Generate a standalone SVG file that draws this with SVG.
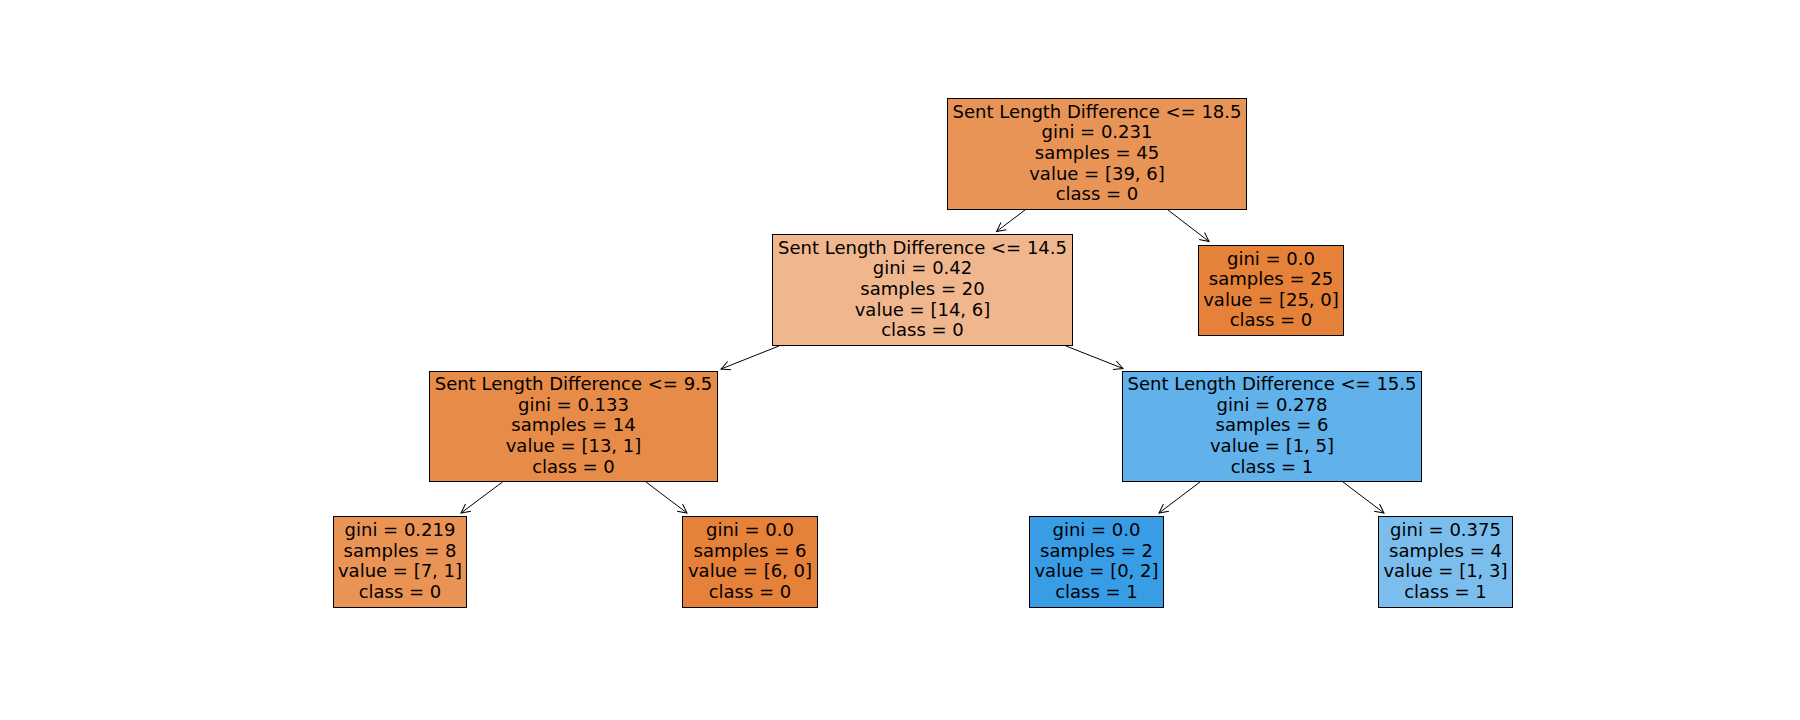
<svg xmlns="http://www.w3.org/2000/svg" width="1800" height="720" viewBox="0 0 1800 720">
<style>
.box{stroke:#000;stroke-width:1}
.t{font-family:"DejaVu Sans",sans-serif;font-size:18px;fill:#000;text-anchor:middle}
.arr{stroke:#000;stroke-width:1;fill:none;marker-end:url(#ah)}
</style>
<defs>
<marker id="ah" markerUnits="userSpaceOnUse" markerWidth="20" markerHeight="20" viewBox="-10 -10 20 20" refX="0" refY="0" orient="auto" overflow="visible">
<path d="M-9,-4.5 L0,0 L-9,4.5" fill="none" stroke="#000" stroke-width="1"/>
</marker>
</defs>
<rect width="1800" height="720" fill="#fff"/>
<g id="connectors">
<line class="arr" x1="1025" y1="210" x2="996.5" y2="231.5"/>
<line class="arr" x1="1168" y1="210" x2="1209" y2="241.5"/>
<line class="arr" x1="779" y1="346" x2="721" y2="369"/>
<line class="arr" x1="1066" y1="346" x2="1123" y2="368.5"/>
<line class="arr" x1="502.5" y1="482" x2="461" y2="513"/>
<line class="arr" x1="646" y1="482" x2="687" y2="513"/>
<line class="arr" x1="1200" y1="482" x2="1159" y2="513"/>
<line class="arr" x1="1343" y1="482" x2="1384" y2="513"/>
</g>
<g id="root">
<rect class="box" x="947.5" y="98.5" width="299" height="111" fill="#e99457"/>
<text class="t" x="1097" y="117.7">Sent Length Difference &lt;= 18.5</text>
<text class="t" x="1097" y="138.3">gini = 0.231</text>
<text class="t" x="1097" y="158.9">samples = 45</text>
<text class="t" x="1097" y="179.5">value = [39, 6]</text>
<text class="t" x="1097" y="200.1">class = 0</text>
</g>
<g id="n1">
<rect class="box" x="772.5" y="234.5" width="300" height="111" fill="#f0b78e"/>
<text class="t" x="922.5" y="253.7">Sent Length Difference &lt;= 14.5</text>
<text class="t" x="922.5" y="274.3">gini = 0.42</text>
<text class="t" x="922.5" y="294.9">samples = 20</text>
<text class="t" x="922.5" y="315.5">value = [14, 6]</text>
<text class="t" x="922.5" y="336.1">class = 0</text>
</g>
<g id="n2">
<rect class="box" x="1198.5" y="245.5" width="145" height="90" fill="#e58139"/>
<text class="t" x="1271" y="264.5">gini = 0.0</text>
<text class="t" x="1271" y="285.1">samples = 25</text>
<text class="t" x="1271" y="305.7">value = [25, 0]</text>
<text class="t" x="1271" y="326.3">class = 0</text>
</g>
<g id="n3">
<rect class="box" x="429.5" y="371.5" width="288" height="110" fill="#e78b48"/>
<text class="t" x="573.5" y="390.2">Sent Length Difference &lt;= 9.5</text>
<text class="t" x="573.5" y="410.8">gini = 0.133</text>
<text class="t" x="573.5" y="431.4">samples = 14</text>
<text class="t" x="573.5" y="452">value = [13, 1]</text>
<text class="t" x="573.5" y="472.6">class = 0</text>
</g>
<g id="n4">
<rect class="box" x="1122.5" y="371.5" width="299" height="110" fill="#61b1ea"/>
<text class="t" x="1272" y="390.2">Sent Length Difference &lt;= 15.5</text>
<text class="t" x="1272" y="410.8">gini = 0.278</text>
<text class="t" x="1272" y="431.4">samples = 6</text>
<text class="t" x="1272" y="452">value = [1, 5]</text>
<text class="t" x="1272" y="472.6">class = 1</text>
</g>
<g id="n5">
<rect class="box" x="333.5" y="516.5" width="133" height="91" fill="#e99355"/>
<text class="t" x="400" y="536">gini = 0.219</text>
<text class="t" x="400" y="556.6">samples = 8</text>
<text class="t" x="400" y="577.2">value = [7, 1]</text>
<text class="t" x="400" y="597.8">class = 0</text>
</g>
<g id="n6">
<rect class="box" x="682.5" y="516.5" width="135" height="91" fill="#e58139"/>
<text class="t" x="750" y="536">gini = 0.0</text>
<text class="t" x="750" y="556.6">samples = 6</text>
<text class="t" x="750" y="577.2">value = [6, 0]</text>
<text class="t" x="750" y="597.8">class = 0</text>
</g>
<g id="n7">
<rect class="box" x="1029.5" y="516.5" width="134" height="91" fill="#399de5"/>
<text class="t" x="1096.5" y="536">gini = 0.0</text>
<text class="t" x="1096.5" y="556.6">samples = 2</text>
<text class="t" x="1096.5" y="577.2">value = [0, 2]</text>
<text class="t" x="1096.5" y="597.8">class = 1</text>
</g>
<g id="n8">
<rect class="box" x="1378.5" y="516.5" width="134" height="91" fill="#7bbeee"/>
<text class="t" x="1445.5" y="536">gini = 0.375</text>
<text class="t" x="1445.5" y="556.6">samples = 4</text>
<text class="t" x="1445.5" y="577.2">value = [1, 3]</text>
<text class="t" x="1445.5" y="597.8">class = 1</text>
</g>
</svg>
